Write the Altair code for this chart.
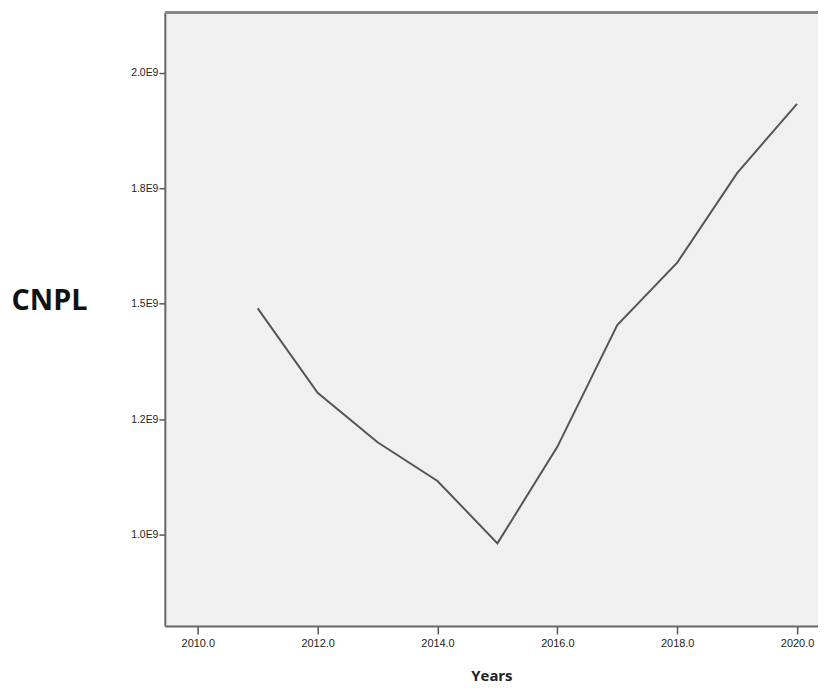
import altair as alt
import pandas as pd

years = [2011, 2012, 2013, 2014, 2015, 2016, 2017, 2018, 2019, 2020]
cnpl = [1.490e9, 1.307e9, 1.200e9, 1.116e9, 0.981e9, 1.190e9, 1.454e9, 1.589e9, 1.783e9, 1.933e9]

y_tick_values = [1.0e9, 1.25e9, 1.5e9, 1.75e9, 2.0e9]
y_tick_labels = ["1.0E9", "1.2E9", "1.5E9", "1.8E9", "2.0E9"]
x_tick_values = [2010, 2012, 2014, 2016, 2018, 2020]
y_top = 2.131e9

df = pd.DataFrame({"Years": years, "CNPL": cnpl})

label_expr = " : ".join(
    f"abs(datum.value - {v}) < 1 ? '{l}'" for v, l in zip(y_tick_values, y_tick_labels)
) + " : ''"

x_scale = alt.Scale(domain=[2009.45, 2020.35], nice=False, zero=False)
y_scale = alt.Scale(domain=[0.802e9, y_top], nice=False, zero=False)

y_axis = alt.Axis(
    values=y_tick_values,
    labelExpr=label_expr,
    grid=False,
    domainColor="#666666",
    domainWidth=2,
    tickColor="#555555",
    tickSize=6,
    tickWidth=1.5,
    labelFont="Liberation Sans",
    labelFontSize=10.5,
    labelColor="#222222",
    labelPadding=1,
    title="CNPL",
    titleFont="Open Sans",
    titleFontSize=29,
    titleFontWeight="bold",
    titleColor="#111111",
    titleAngle=0,
    titleAlign="left",
    titleBaseline="middle",
    titleX=-155,
    titleY=290,
)

line = (
    alt.Chart(df)
    .mark_line(color="#555555", strokeWidth=2)
    .encode(
        x=alt.X(
            "Years:Q",
            scale=x_scale,
            axis=alt.Axis(
                values=x_tick_values,
                format=".1f",
                grid=False,
                domainColor="#666666",
                domainWidth=2,
                tickColor="#555555",
                tickSize=8,
                tickWidth=1.5,
                labelFont="Liberation Sans",
                labelFontSize=11,
                labelColor="#222222",
                labelPadding=4,
                title="Years",
                titleFont="Open Sans",
                titleFontSize=15,
                titleFontWeight="bold",
                titleColor="#222222",
                titleY=50,
                titleBaseline="middle",
            ),
        ),
        y=alt.Y("CNPL:Q", scale=y_scale, axis=y_axis),
    )
)

top_border = (
    alt.Chart(pd.DataFrame({"CNPL": [y_top]}))
    .mark_rule(color="#8a8a8a", strokeWidth=3)
    .encode(y=alt.Y("CNPL:Q", scale=y_scale, axis=y_axis))
)

chart = (
    alt.layer(line, top_border)
    .properties(
        width=658,
        height=618,
        padding={"left": 158, "top": 2, "right": 0, "bottom": 60},
        autosize=alt.AutoSizeParams(type="none"),
        background="white",
    )
    .configure_view(fill="#f0f0f0", strokeWidth=0)
)

chart.save("out.html", embed_options={"renderer": "svg", "actions": False})
